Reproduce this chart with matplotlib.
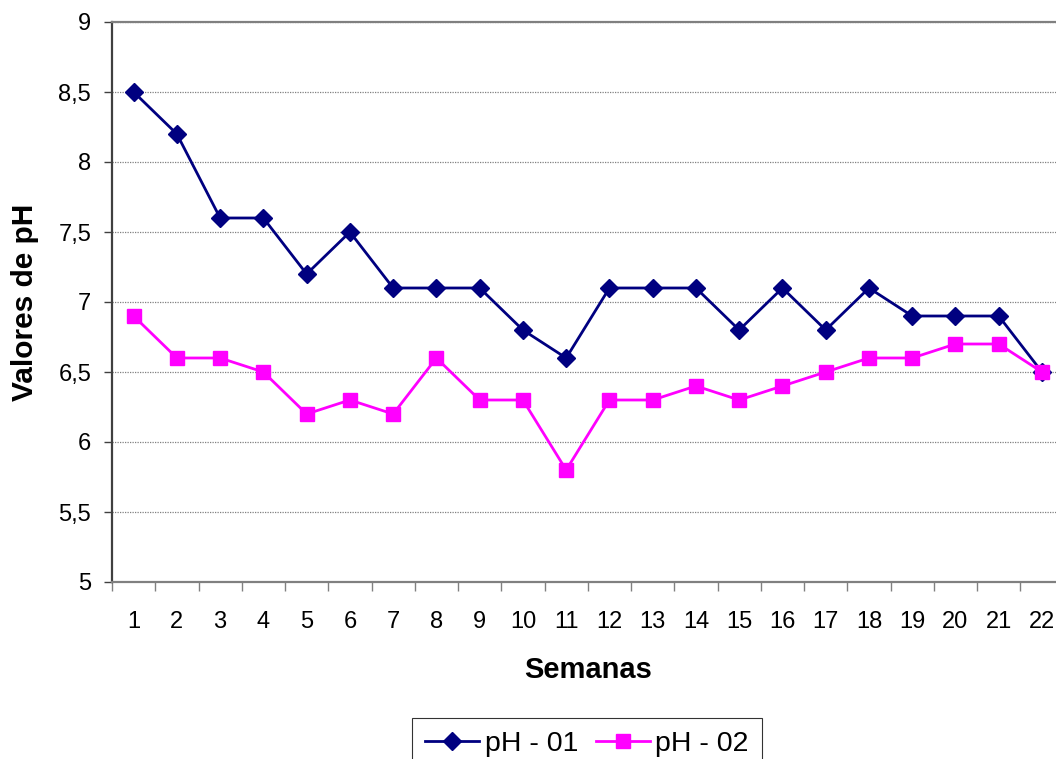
import matplotlib.pyplot as plt
from matplotlib.ticker import FixedLocator, FuncFormatter

plt.rcParams["font.family"] = ["Liberation Sans", "DejaVu Sans"]

# semanas de muestreo y valores de pH medidos
semanas = list(range(1, 23))
ph_01 = [8.5, 8.2, 7.6, 7.6, 7.2, 7.5, 7.1, 7.1, 7.1, 6.8, 6.6,
         7.1, 7.1, 7.1, 6.8, 7.1, 6.8, 7.1, 6.9, 6.9, 6.9, 6.5]
ph_02 = [6.9, 6.6, 6.6, 6.5, 6.2, 6.3, 6.2, 6.6, 6.3, 6.3, 5.8,
         6.3, 6.3, 6.4, 6.3, 6.4, 6.5, 6.6, 6.6, 6.7, 6.7, 6.5]
y_ticks = [5, 5.5, 6, 6.5, 7, 7.5, 8, 8.5, 9]

W, H = 1056, 759
fig = plt.figure(figsize=(W / 100, H / 100), dpi=100)
# el eje derecho queda un poco fuera de la imagen
ax = fig.add_axes([112 / W, 1 - 582 / H, (1063.6 - 112) / W, 560 / H])

ax.plot(semanas, ph_01, color="#000080", lw=2, marker="D", ms=9,
        label="pH - 01", zorder=3)
ax.plot(semanas, ph_02, color="#FF00FF", lw=2, marker="s", ms=9.5,
        label="pH - 02", zorder=3)

ax.set_xlim(0.5, 22.5)
ax.set_ylim(5, 9)

# eje y con coma decimal
ax.yaxis.set_major_locator(FixedLocator(y_ticks))
ax.yaxis.set_major_formatter(FuncFormatter(lambda v, p: f"{v:g}".replace(".", ",")))
ax.tick_params(axis="y", direction="out", length=6, width=1, color="#404040",
               labelsize=17, pad=9)
ax.grid(True, axis="y", color="#808080", lw=0.9, ls=(0, (1, 1)))

# marcas del eje x entre categorias, etiquetas en el centro
ax.xaxis.set_major_locator(FixedLocator([i + 0.5 for i in range(0, 23)]))
ax.xaxis.set_major_formatter(FuncFormatter(lambda v, p: ""))
ax.xaxis.set_minor_locator(FixedLocator(semanas))
ax.xaxis.set_minor_formatter(FuncFormatter(lambda v, p: f"{int(v)}"))
ax.tick_params(axis="x", which="major", direction="out", length=6.5, width=1,
               color="#808080")
ax.tick_params(axis="x", which="minor", length=0, labelsize=17, pad=21)

for side in ["top", "bottom", "right"]:
    ax.spines[side].set_color("#808080")
    ax.spines[side].set_linewidth(1.6)
ax.spines["left"].set_color("#404040")
ax.spines["left"].set_linewidth(1.6)

fig.text(588 / W, 1 - 670 / H, "Semanas", ha="center", va="center",
         fontsize=21, fontweight="bold")
fig.text(25 / W, 1 - 302 / H, "Valores de pH", ha="center", va="center",
         rotation=90, fontsize=21.5, fontweight="bold")

leg = fig.legend(loc="upper center", bbox_to_anchor=(587 / W, 1 - 718 / H),
                 ncol=2, fontsize=20.5, frameon=True, fancybox=False,
                 handlelength=1.9, handletextpad=0.2, columnspacing=0.6,
                 borderpad=0.45, borderaxespad=0)
leg.get_frame().set_edgecolor("black")
leg.get_frame().set_linewidth(0.8)

plt.savefig("out.png", dpi=100)
